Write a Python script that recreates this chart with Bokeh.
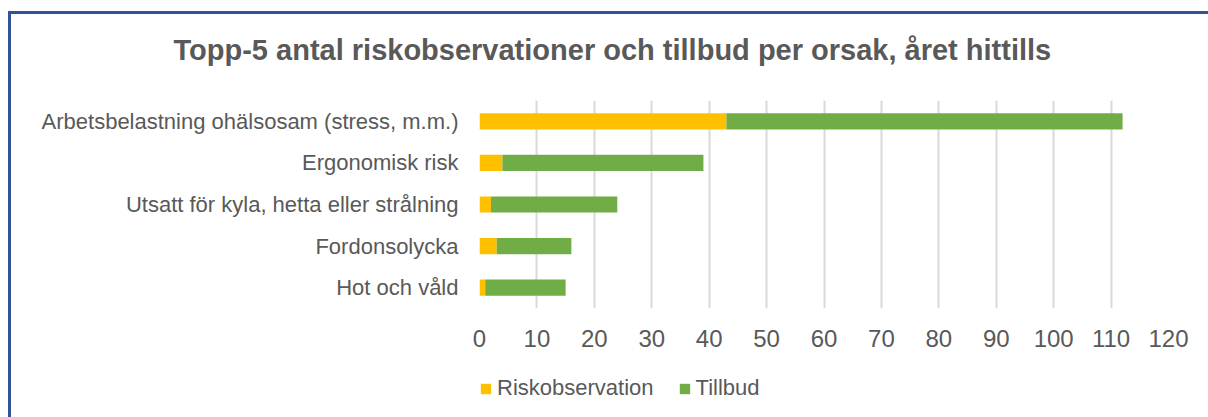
from bokeh.plotting import figure
from bokeh.models import ColumnDataSource, Legend, LegendItem, Title, FactorRange, Range1d
from bokeh.layouts import column
from bokeh.embed import file_html
from bokeh.resources import INLINE

categories = ["Arbetsbelastning ohälsosam (stress, m.m.)", "Ergonomisk risk",
              "Utsatt för kyla, hetta eller strålning", "Fordonsolycka", "Hot och våld"]
riskobservation = [43, 4, 2, 3, 1]
tillbud = [69, 35, 22, 13, 14]
series = ["Riskobservation", "Tillbud"]
colors = ["#FFC000", "#70AD47"]
x_ticks = list(range(0, 121, 10))
title_text = "Topp-5 antal riskobservationer och tillbud per orsak, året hittills"

TXT = "#595959"
FONT = "Liberation Sans"

source = ColumnDataSource(dict(cat=categories, Riskobservation=riskobservation, Tillbud=tillbud))

p = figure(width=1197, height=346, output_backend="svg", toolbar_location=None,
           y_range=FactorRange(*list(reversed(categories))), x_range=(0, 120),
           min_border_left=468, min_border_right=40, min_border_top=86, min_border_bottom=52,
           outline_line_color=None)

rs = p.hbar_stack(series, y="cat", height=0.39, color=colors, source=source, line_color=None)

p.xaxis.ticker = x_ticks
p.xaxis.axis_line_color = None
p.xaxis.major_tick_line_color = None
p.xaxis.minor_tick_line_color = None
p.xaxis.major_label_text_font = FONT
p.xaxis.major_label_text_font_size = "24px"
p.xaxis.major_label_text_color = TXT
p.xaxis.major_label_standoff = 15

p.yaxis.axis_line_color = None
p.yaxis.major_tick_line_color = None
p.yaxis.major_label_text_font = FONT
p.yaxis.major_label_text_font_size = "22px"
p.yaxis.major_label_text_color = TXT
p.yaxis.major_label_standoff = 15

p.ygrid.grid_line_color = None
p.xgrid.grid_line_color = "#D9D9D9"
p.xgrid.grid_line_width = 2

# spacer between title and plot area, then the title itself
spacer = Title(text=" ", text_font_size="10px", standoff=22)
p.add_layout(spacer, "above")
title = Title(text=title_text, align="left", offset=-306, standoff=0,
              text_font=FONT, text_font_style="bold",
              text_font_size="29px", text_color=TXT)
p.add_layout(title, "above")

# legend strip below the chart
lf = figure(width=1197, height=57, output_backend="svg", toolbar_location=None,
            x_axis_type=None, y_axis_type=None,
            x_range=Range1d(0, 120), y_range=FactorRange(*categories),
            min_border=0, outline_line_color=None)
lf.grid.visible = False
lrs = lf.hbar_stack(series, y="cat", height=0, color=colors, source=source, line_color=None)
legend = Legend(items=[LegendItem(label=s, renderers=[r]) for s, r in zip(series, lrs)],
                orientation="horizontal", location=(0, 16), padding=0, margin=0,
                spacing=24, label_standoff=5, glyph_width=13, glyph_height=13,
                label_text_font=FONT, label_text_font_size="22px", label_text_color=TXT,
                border_line_color=None, background_fill_alpha=0)
lf.add_layout(legend, "center")

layout = column(p, lf, spacing=0)
layout.styles = {"border-left": "3px solid #2F5597", "border-top": "3px solid #2F5597",
                 "margin-left": "8px", "margin-top": "11px"}

open("out.html", "w").write(file_html(layout, INLINE))
